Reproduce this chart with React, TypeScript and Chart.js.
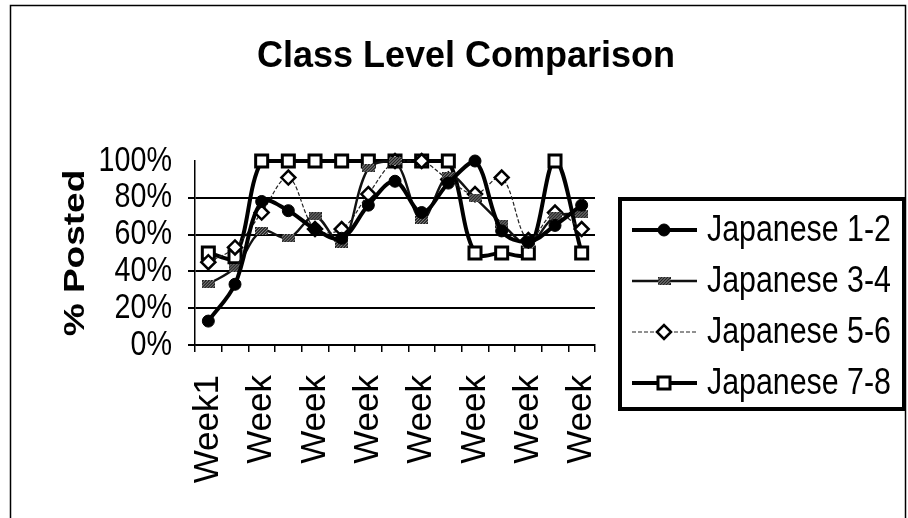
import React, { useEffect, useRef } from "react";
import { Chart, registerables } from "chart.js";
import { drawPoint } from "chart.js/helpers";

Chart.register(...registerables);

const weekLabels = ["Week1", "", "Week", "", "Week", "", "Week", "", "Week", "", "Week", "", "Week", "", "Week"];
const japanese12 = [13, 33, 78, 73, 63, 58, 76, 89, 72, 88, 100, 62, 56, 65, 76];
const japanese34 = [33, 42, 62, 58, 70, 55, 96, 100, 68, 92, 80, 66, 55, 70, 71];
const japanese56 = [45, 53, 72, 91, 63, 63, 82, 100, 100, 90, 82, 91, 57, 72, 63];
const japanese78 = [50, 48, 100, 100, 100, 100, 100, 100, 100, 100, 50, 50, 50, 100, 50];
const seriesNames = ["Japanese 1-2", "Japanese 3-4", "Japanese 5-6", "Japanese 7-8"];
const yTicks = [0, 20, 40, 60, 80, 100];

const TITLE = "Class Level Comparison";
const Y_TITLE = "% Posted";
const SANS = "Arial, 'Liberation Sans', sans-serif";
const SQUEEZE = 0.82;

function makeBarMarker(): HTMLCanvasElement {
  const c = document.createElement("canvas");
  c.width = 13;
  c.height = 8;
  const g = c.getContext("2d")!;
  g.fillStyle = "#222";
  g.fillRect(0, 0, 13, 8);
  g.strokeStyle = "#999";
  g.lineWidth = 1;
  for (let i = -8; i < 13; i += 3) {
    g.beginPath();
    g.moveTo(i, 8);
    g.lineTo(i + 8, 0);
    g.stroke();
  }
  return c;
}

function squeezedText(ctx: CanvasRenderingContext2D, text: string, x: number, y: number, align: CanvasTextAlign, rotate = 0) {
  ctx.save();
  ctx.translate(x, y);
  ctx.scale(SQUEEZE, 1);
  if (rotate) ctx.rotate(rotate);
  ctx.textAlign = align;
  ctx.textBaseline = "middle";
  ctx.fillText(text, 0, 0);
  ctx.restore();
}

const decorPlugin = {
  id: "decor",
  afterDraw(chart: any) {
    const ctx = chart.ctx;
    ctx.save();
    // outer frame
    ctx.strokeStyle = "#000";
    ctx.lineWidth = 1.5;
    ctx.strokeRect(10.5, 5.5, 895, 530);
    // title
    ctx.fillStyle = "#000";
    ctx.font = `bold 36px ${SANS}`;
    ctx.textAlign = "center";
    ctx.textBaseline = "alphabetic";
    ctx.fillText(TITLE, 466, 67);
    // y title
    ctx.font = `bold 37px ${SANS}`;
    const ys = chart.scales.y;
    squeezedText(ctx, Y_TITLE, 76, (ys.top + ys.bottom) / 2, "center", -Math.PI / 2);
    // y tick labels
    ctx.font = `35px ${SANS}`;
    yTicks.forEach((v) => {
      squeezedText(ctx, `${v}%`, 172, ys.getPixelForValue(v), "right");
    });
    // legend
    ctx.lineWidth = 4;
    ctx.strokeRect(620, 199, 284, 210);
    const ds = chart.data.datasets;
    ds.forEach((d: any, i: number) => {
      const y = 230 + i * 51;
      ctx.save();
      ctx.strokeStyle = d.borderColor;
      ctx.lineWidth = d.borderWidth;
      ctx.setLineDash(d.borderDash || []);
      ctx.beginPath();
      ctx.moveTo(632, y);
      ctx.lineTo(697, y);
      ctx.stroke();
      ctx.setLineDash([]);
      ctx.fillStyle = d.pointBackgroundColor;
      ctx.strokeStyle = d.pointBorderColor;
      ctx.lineWidth = d.pointBorderWidth;
      drawPoint(ctx, { pointStyle: d.pointStyle, radius: d.pointRadius, rotation: 0, borderWidth: d.pointBorderWidth }, 664, y);
      ctx.restore();
      ctx.fillStyle = "#000";
      ctx.font = `37px ${SANS}`;
      squeezedText(ctx, d.label, 707, y + 1, "left");
    });
    ctx.restore();
  },
};

export default function App() {
  const ref = useRef<HTMLCanvasElement>(null);
  useEffect(() => {
    const barMarker = makeBarMarker();
    const chart = new Chart(ref.current!, {
      type: "line",
      data: {
        labels: weekLabels,
        datasets: [
          {
            label: seriesNames[0],
            data: japanese12,
            borderColor: "#000",
            borderWidth: 4,
            pointStyle: "circle",
            pointRadius: 6,
            pointBackgroundColor: "#000",
            pointBorderColor: "#000",
            pointBorderWidth: 1,
            tension: 0.35,
            clip: false,
          },
          {
            label: seriesNames[1],
            data: japanese34,
            borderColor: "#111",
            borderWidth: 2.4,
            pointStyle: barMarker,
            pointRadius: 5,
            pointBackgroundColor: "#222",
            pointBorderColor: "#222",
            pointBorderWidth: 1,
            tension: 0.35,
            clip: false,
          },
          {
            label: seriesNames[2],
            data: japanese56,
            borderColor: "#222",
            borderWidth: 1.2,
            borderDash: [4, 2],
            pointStyle: "rectRot",
            pointRadius: 7,
            pointBackgroundColor: "#fff",
            pointBorderColor: "#000",
            pointBorderWidth: 2.5,
            tension: 0.35,
            clip: false,
          },
          {
            label: seriesNames[3],
            data: japanese78,
            borderColor: "#000",
            borderWidth: 4,
            pointStyle: "rect",
            pointRadius: 8.5,
            pointBackgroundColor: "#fff",
            pointBorderColor: "#000",
            pointBorderWidth: 3,
            tension: 0.35,
            clip: false,
          },
        ] as any,
      },
      options: {
        responsive: false,
        animation: false,
        devicePixelRatio: 1,
        layout: { padding: { left: 0, top: 161, right: 313, bottom: 0 } },
        plugins: { legend: { display: false }, title: { display: false }, tooltip: { enabled: false } },
        scales: {
          x: {
            type: "category",
            offset: true,
            afterFit: (s: any) => {
              s.height = 173;
            },
            border: { color: "#000", width: 1.5 },
            grid: { offset: true, drawOnChartArea: false, color: "#000", tickLength: 7, lineWidth: 1.5 },
            ticks: {
              autoSkip: false,
              minRotation: 90,
              maxRotation: 90,
              padding: 23,
              color: "#000",
              font: { family: SANS, size: 35 },
            },
          },
          y: {
            min: 0,
            max: 100,
            afterFit: (s: any) => {
              s.width = 195;
            },
            afterBuildTicks: (s: any) => {
              s.ticks = yTicks.map((v) => ({ value: v }));
            },
            border: { color: "#000", width: 1.5 },
            grid: {
              color: (c: any) => (c.tick && c.tick.value === 100 ? "rgba(0,0,0,0)" : "#000"),
              lineWidth: 2,
              tickLength: 7,
            },
            ticks: {
              autoSkip: false,
              padding: 16,
              color: "rgba(0,0,0,0)",
              font: { family: SANS, size: 12 },
              callback: (v: any) => `${v}%`,
            },
          },
        },
      },
      plugins: [decorPlugin],
    } as any);
    return () => chart.destroy();
  }, []);
  return (
    <div style={{ position: "absolute", left: 0, top: 0, width: 908, height: 518, background: "#fff" }}>
      <canvas ref={ref} width={908} height={518} style={{ display: "block" }} />
    </div>
  );
}
